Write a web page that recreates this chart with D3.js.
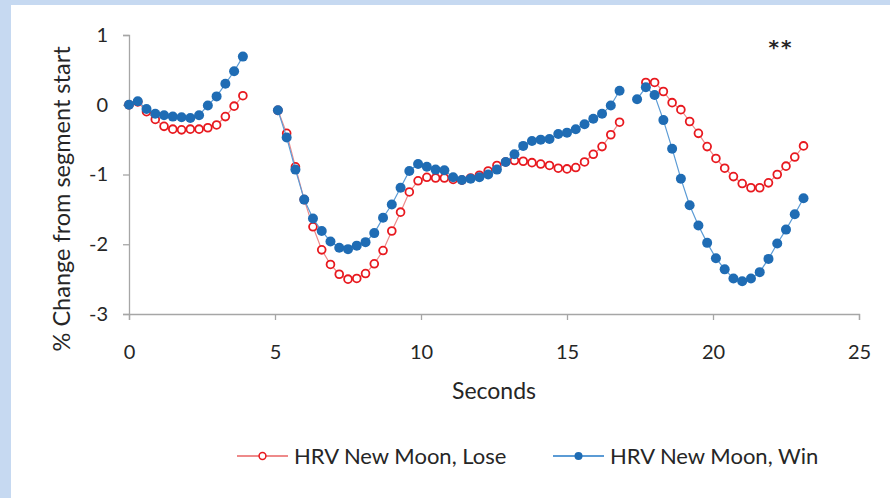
<!DOCTYPE html>
<html>
<head>
<meta charset="utf-8">
<script src="https://cdn.jsdelivr.net/npm/d3@7"></script>
<style>
  html, body { margin: 0; padding: 0; background: #c6d9f1; }
  svg { display: block; }
  text { font-family: Lato, "Open Sans", "Liberation Sans", sans-serif; fill: #262626; }
</style>
</head>
<body>
<svg id="chart" width="890" height="498"></svg>
<script>
// Time (s) of each sample; null separates the recording segments
const seconds = [
  0, 0.3, 0.6, 0.9, 1.2, 1.5, 1.8, 2.1, 2.4, 2.7, 3.0, 3.3, 3.6, 3.9,
  null,
  5.1, 5.4, 5.7, 6.0, 6.3, 6.6, 6.9, 7.2, 7.5, 7.8, 8.1, 8.4, 8.7, 9.0, 9.3, 9.6, 9.9,
  10.2, 10.5, 10.8, 11.1, 11.4, 11.7, 12.0, 12.3, 12.6, 12.9, 13.2, 13.5, 13.8, 14.1,
  14.4, 14.7, 15.0, 15.3, 15.6, 15.9, 16.2, 16.5, 16.8,
  null,
  17.4, 17.7, 18.0, 18.3, 18.6, 18.9, 19.2, 19.5, 19.8, 20.1, 20.4, 20.7, 21.0, 21.3,
  21.6, 21.9, 22.2, 22.5, 22.8, 23.1
];

// % change from segment start, losing trials
const loseValues = [
  0, 0.04, -0.1, -0.21, -0.31, -0.35, -0.36, -0.35, -0.35, -0.33, -0.29, -0.17, -0.02, 0.13,
  null,
  -0.08, -0.41, -0.89, -1.36, -1.75, -2.08, -2.29, -2.43, -2.50, -2.49, -2.42, -2.28, -2.09, -1.81, -1.54, -1.25, -1.09,
  -1.04, -1.05, -1.05, -1.07, -1.08, -1.05, -1.01, -0.95, -0.87, -0.82, -0.80, -0.81, -0.83, -0.85,
  -0.87, -0.91, -0.92, -0.90, -0.82, -0.71, -0.60, -0.43, -0.25,
  null,
  null, 0.32, 0.32, 0.19, 0.03, -0.07, -0.24, -0.41, -0.60, -0.77, -0.91, -1.03, -1.13, -1.19,
  -1.19, -1.12, -1.00, -0.88, -0.75, -0.59
];

// % change from segment start, winning trials
const winValues = [
  0, 0.05, -0.06, -0.13, -0.15, -0.17, -0.18, -0.19, -0.15, -0.01, 0.12, 0.30, 0.48, 0.69,
  null,
  -0.08, -0.47, -0.93, -1.36, -1.63, -1.81, -1.96, -2.05, -2.07, -2.02, -1.97, -1.84, -1.62, -1.43, -1.19, -0.95, -0.85,
  -0.89, -0.93, -0.94, -1.04, -1.08, -1.06, -1.04, -1.00, -0.93, -0.82, -0.71, -0.59, -0.52, -0.50,
  -0.49, -0.42, -0.40, -0.35, -0.28, -0.20, -0.13, -0.01, 0.20,
  null,
  0.08, 0.25, 0.14, -0.22, -0.63, -1.06, -1.44, -1.73, -1.98, -2.20, -2.36, -2.49, -2.53, -2.49,
  -2.40, -2.21, -1.99, -1.79, -1.57, -1.34
];

const xTicks = [0, 5, 10, 15, 20, 25];
const yTicks = [1, 0, -1, -2, -3];

const seriesNames = ["HRV New Moon, Lose", "HRV New Moon, Win"];
const significance = "**";

const svg = d3.select("#chart");
const W = 890, H = 498;

// white chart area on the blue frame
svg.append("rect").attr("x", 11).attr("y", 5).attr("width", W - 11).attr("height", H - 5).attr("fill", "#ffffff");

const x = d3.scaleLinear().domain([0, 25]).range([129, 859]);
const y = d3.scaleLinear().domain([-3, 1]).range([314, 35]);

const axisColor = "#a6a6a6";

// x axis
const gx = svg.append("g").attr("transform", `translate(0,${y(-3)})`)
  .call(d3.axisBottom(x).tickValues(xTicks).tickSize(6).tickPadding(25).tickFormat(d3.format("d")));
gx.select(".domain").attr("stroke", axisColor).attr("stroke-width", 1.3);
gx.selectAll(".tick line").attr("stroke", axisColor).attr("stroke-width", 1.3);
gx.selectAll(".tick text").attr("font-size", 20).attr("fill", "#262626");

// y axis
const gy = svg.append("g").attr("transform", `translate(${x(0)},0)`)
  .call(d3.axisLeft(y).tickValues(yTicks).tickSize(6).tickPadding(15).tickFormat(d3.format("d")));
gy.select(".domain").attr("stroke", axisColor).attr("stroke-width", 1.3);
gy.selectAll(".tick line").attr("stroke", axisColor).attr("stroke-width", 1.3);
gy.selectAll(".tick text").attr("font-size", 20).attr("fill", "#262626")
  .text(d => d < 0 ? "-" + Math.abs(d) : d);

// axis titles
svg.append("text").attr("x", x(12.5)).attr("y", 399).attr("text-anchor", "middle")
  .attr("font-size", 23).text("Seconds");
svg.append("text").attr("transform", `translate(70,${y(-1.35)}) rotate(-90)`)
  .attr("text-anchor", "middle").attr("font-size", 23.5).text("% Change from segment start");

// significance marker
svg.append("text").attr("x", 781).attr("y", 54).attr("text-anchor", "middle")
  .style("font-family", "'DejaVu Sans', sans-serif").style("font-weight", "bold")
  .attr("font-size", 20).attr("letter-spacing", 2).text(significance);

const redStroke = "#e8191f", redLine = "#ee8a8a";
const blueFill = "#1f6cb4", blueLine = "#5b9bd5";

function points(values) {
  return seconds.map((t, i) => ({ t, v: values[i] }));
}

const line = d3.line()
  .defined(d => d.t !== null && d.v !== null)
  .x(d => x(d.t)).y(d => y(d.v));

const losePts = points(loseValues), winPts = points(winValues);
const valid = d => d.t !== null && d.v !== null;

// losing series: thin line with open circles
svg.append("path").datum(losePts).attr("d", line)
  .attr("fill", "none").attr("stroke", redLine).attr("stroke-width", 1.2);
svg.append("g").selectAll("circle").data(losePts.filter(valid)).join("circle")
  .attr("cx", d => x(d.t)).attr("cy", d => y(d.v)).attr("r", 3.9)
  .attr("fill", "#fff").attr("stroke", redStroke).attr("stroke-width", 1.8);

// winning series: thin line with filled dots
svg.append("path").datum(winPts).attr("d", line)
  .attr("fill", "none").attr("stroke", blueLine).attr("stroke-width", 1.2);
svg.append("g").selectAll("circle").data(winPts.filter(valid)).join("circle")
  .attr("cx", d => x(d.t)).attr("cy", d => y(d.v)).attr("r", 5)
  .attr("fill", blueFill);

// legend
const legend = svg.append("g");
const legendItems = [
  { name: seriesNames[0], x0: 237, line: redLine, open: true },
  { name: seriesNames[1], x0: 553, line: blueLine, open: false }
];
legendItems.forEach(it => {
  const g = legend.append("g").attr("transform", `translate(${it.x0},456)`);
  g.append("line").attr("x1", 0).attr("x2", 51).attr("y1", 0).attr("y2", 0)
    .attr("stroke", it.line).attr("stroke-width", 2);
  if (it.open) {
    g.append("circle").attr("cx", 25.5).attr("cy", 0).attr("r", 3.4)
      .attr("fill", "#fff").attr("stroke", redStroke).attr("stroke-width", 1.5);
  } else {
    g.append("circle").attr("cx", 25.5).attr("cy", 0).attr("r", 4).attr("fill", blueFill);
  }
  g.append("text").attr("x", 57).attr("y", 8).attr("font-size", 22).text(it.name);
});
</script>
</body>
</html>
